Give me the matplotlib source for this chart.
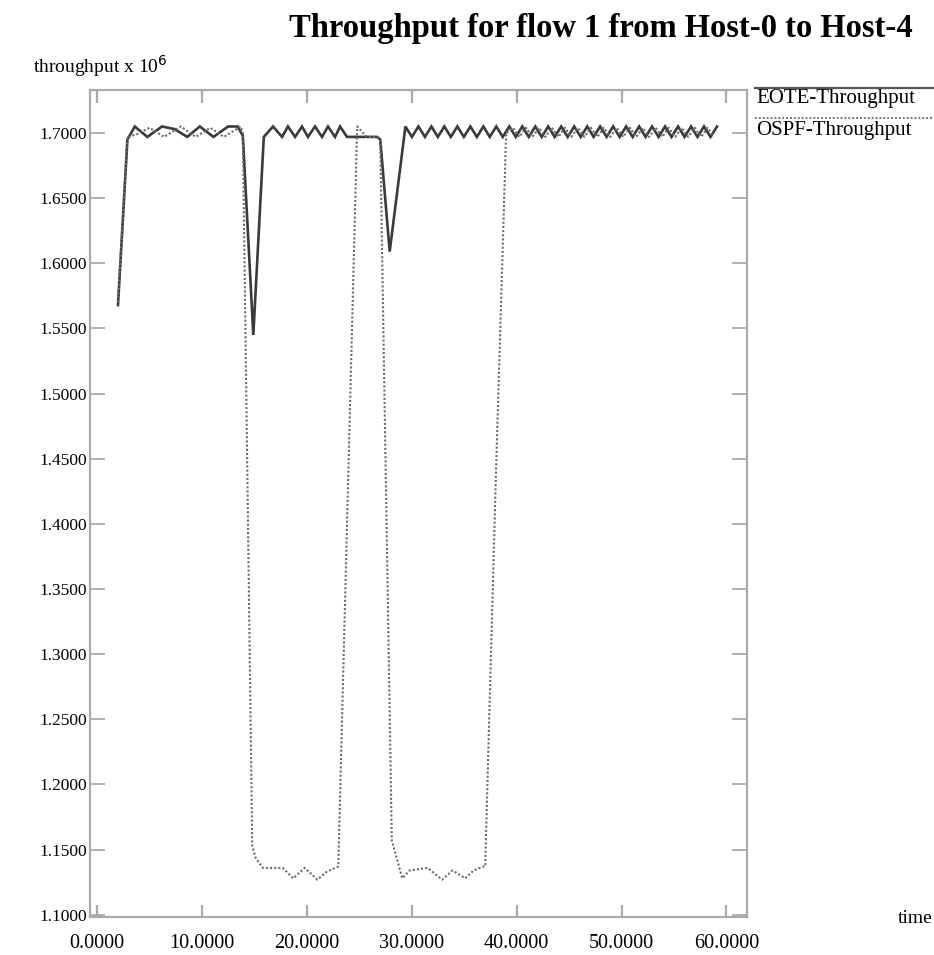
import matplotlib
matplotlib.use("Agg")
import matplotlib.pyplot as plt
from matplotlib.lines import Line2D

# ---------------- data ----------------
eote_time = [2.0, 2.9, 3.6, 4.8, 6.2, 7.4, 8.6, 9.8, 11.1, 12.5, 13.4, 13.9, 14.9, 15.9,
             16.78, 17.64, 18.2, 18.88, 19.54, 20.11, 20.78, 21.45, 22.02, 22.69, 23.17, 23.83,
             26.7, 27.0, 27.9,
             29.40, 30.02, 30.64, 31.26, 31.88, 32.49, 33.11, 33.73, 34.35, 34.97, 35.59, 36.21,
             36.83, 37.44, 38.06, 38.68, 39.30, 39.92, 40.54, 41.16, 41.78, 42.39, 43.01, 43.63,
             44.25, 44.87, 45.49, 46.11, 46.73, 47.34, 47.96, 48.58, 49.20, 49.82, 50.44, 51.06,
             51.68, 52.29, 52.91, 53.53, 54.15, 54.77, 55.39, 56.01, 56.63, 57.24, 57.86, 58.48,
             59.10]
eote_tput = [1.568, 1.695, 1.705, 1.697, 1.705, 1.703, 1.697, 1.705, 1.697, 1.705, 1.705, 1.698, 1.545, 1.697,
             1.705, 1.697, 1.705, 1.697, 1.705, 1.697, 1.705, 1.697, 1.705, 1.697, 1.705, 1.697,
             1.697, 1.695, 1.609,
             1.705, 1.697, 1.705, 1.697, 1.705, 1.697, 1.705, 1.697, 1.705, 1.697, 1.705, 1.697,
             1.705, 1.697, 1.705, 1.697, 1.705, 1.697, 1.705, 1.697, 1.705, 1.697, 1.705, 1.697,
             1.705, 1.697, 1.705, 1.697, 1.705, 1.697, 1.705, 1.697, 1.705, 1.697, 1.705, 1.697,
             1.705, 1.697, 1.705, 1.697, 1.705, 1.697, 1.705, 1.697, 1.705, 1.697, 1.705, 1.697,
             1.705]

ospf_time = [2.0, 2.9, 3.8, 5.0, 6.4, 8.0, 9.4, 10.8, 12.1, 13.7, 13.9, 14.8, 15.1, 15.8,
             16.8, 17.7, 18.7, 19.8, 21.0, 21.9, 22.7, 23.0, 24.8, 25.7, 26.7, 27.0, 28.1,
             29.1, 29.8, 31.5, 32.9, 33.9, 35.1, 35.9, 36.8, 37.0, 38.0, 39.0,
             39.65, 40.27, 40.89, 41.51, 42.13, 42.74, 43.36, 43.98, 44.60, 45.22, 45.84, 46.46,
             47.08, 47.69, 48.31, 48.93, 49.55, 50.17, 50.79, 51.41, 52.03, 52.64, 53.26, 53.88,
             54.50, 55.12, 55.74, 56.36, 56.98, 57.59, 58.21, 58.75]
ospf_tput = [1.570, 1.697, 1.699, 1.704, 1.697, 1.705, 1.697, 1.704, 1.697, 1.705, 1.700, 1.153, 1.144, 1.136,
             1.136, 1.136, 1.128, 1.136, 1.127, 1.133, 1.136, 1.137, 1.705, 1.697, 1.697, 1.695, 1.157,
             1.128, 1.134, 1.136, 1.127, 1.134, 1.128, 1.134, 1.137, 1.137, 1.430, 1.700,
             1.704, 1.697, 1.704, 1.697, 1.704, 1.697, 1.704, 1.697, 1.704, 1.697, 1.704, 1.697,
             1.704, 1.697, 1.704, 1.697, 1.704, 1.697, 1.704, 1.697, 1.704, 1.697, 1.704, 1.697,
             1.704, 1.697, 1.704, 1.697, 1.704, 1.697, 1.704, 1.697]

x_ticks = [0, 10, 20, 30, 40, 50, 60]
y_ticks = [1.10, 1.15, 1.20, 1.25, 1.30, 1.35, 1.40, 1.45, 1.50, 1.55, 1.60, 1.65, 1.70]

title = "Throughput for flow 1 from Host-0 to Host-4"
series_names = ["EOTE-Throughput", "OSPF-Throughput"]

# ---------------- figure ----------------
plt.rcParams['font.family'] = ['Liberation Serif', 'DejaVu Serif']
W, H = 934, 955
fig = plt.figure(figsize=(W / 100, H / 100), dpi=100)
ax = fig.add_axes([90 / W, 1 - 917 / H, (747 - 90) / W, (917 - 90) / H])

ax.plot(eote_time, eote_tput, color='#3a3a3a', lw=1.9, solid_joinstyle='miter')
ax.plot(ospf_time, ospf_tput, color='#6a6a6a', lw=1.5, linestyle=(0, (1, 1)))

ax.set_xlim(-0.667, 61.96)
ax.set_ylim(1.0983, 1.733)
ax.set_xticks(x_ticks)
ax.set_xticklabels([f"{v:.4f}" for v in x_ticks])
ax.set_yticks(y_ticks)
ax.set_yticklabels([f"{v:.4f}" for v in y_ticks])

spine_col = '#aaaaaa'
for s in ax.spines.values():
    s.set_color(spine_col)
    s.set_linewidth(1.6)
ax.tick_params(axis='x', direction='in', length=9, width=1.6, color=spine_col,
               top=True, bottom=True, labelsize=14.5, pad=12)
ax.tick_params(axis='y', direction='in', length=11, width=1.3, color=spine_col,
               left=True, right=True, labelsize=12.5, pad=2)

fig.text(601 / W, 1 - 28 / H, title, ha='center', va='center',
         fontsize=23.5, fontweight='bold')
fig.text(33 / W, 1 - 66 / H, r"throughput x 10$^6$", ha='left', va='center', fontsize=14)
fig.text(898 / W, 1 - 918 / H, "time", ha='left', va='center', fontsize=14)

# legend outside on the right
fig.add_artist(Line2D([755 / W, 934 / W], [1 - 88 / H, 1 - 88 / H],
                      transform=fig.transFigure, color='#555555', lw=1.6))
fig.text(756 / W, 1 - 98 / H, series_names[0], ha='left', va='center', fontsize=15)
fig.add_artist(Line2D([755 / W, 934 / W], [1 - 118 / H, 1 - 118 / H],
                      transform=fig.transFigure, color='#777777', lw=1.4, linestyle=(0, (1, 1))))
fig.text(756 / W, 1 - 130 / H, series_names[1], ha='left', va='center', fontsize=15)

fig.savefig("out.png", dpi=100)
